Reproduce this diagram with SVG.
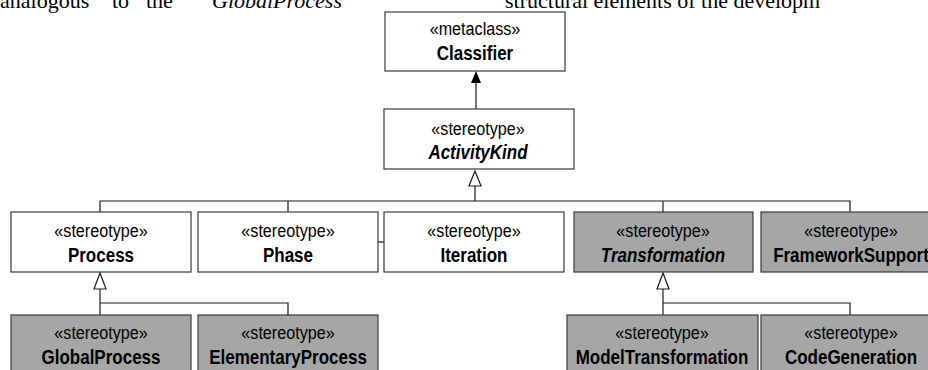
<svg xmlns="http://www.w3.org/2000/svg" width="928" height="370" viewBox="0 0 928 370">
<style>
.box{fill:#ffffff;stroke:#3a3a3a;stroke-width:1.2}
.gray{fill:#a6a6a6;stroke:#3a3a3a;stroke-width:1.2}
.st,.nm{font-family:"Liberation Sans",Arial,sans-serif;fill:#000;text-anchor:middle;transform-box:fill-box;transform-origin:center;transform:scaleX(0.85)}
.st{font-size:19px}
.nm{font-size:20px;font-weight:bold}
.it{font-style:italic}
.ln{fill:none;stroke:#1a1a1a;stroke-width:1.2}
.hollow{fill:#ffffff;stroke:#1a1a1a;stroke-width:1.2}
.body{font-family:"Liberation Serif","Times New Roman",serif;font-size:22px;fill:#000}
</style>
<text class="body" y="8"><tspan x="0">analogous</tspan><tspan x="112">to</tspan><tspan x="146">the</tspan><tspan x="200">“</tspan><tspan x="212" font-style="italic">GlobalProcess</tspan><tspan x="352">”</tspan><tspan x="505">structural elements of the developm</tspan></text>
<g id="connectors">
<line class="ln" x1="476" y1="109" x2="476" y2="82"/>
<polygon points="476,71 471,83 481,83" fill="#000"/>
<polyline class="ln" points="475,186 475,201"/>
<polygon class="hollow" points="475,171 469,186 481,186"/>
<polyline class="ln" points="100,212 100,201 850,201 850,212"/>
<line class="ln" x1="288" y1="201" x2="288" y2="212"/>
<line class="ln" x1="663" y1="201" x2="663" y2="212"/>
<line class="ln" x1="378" y1="242" x2="384" y2="242"/>
<polyline class="ln" points="100,289 100,315"/>
<polygon class="hollow" points="100,273 94,289 106,289"/>
<polyline class="ln" points="100,303 288,303 288,315"/>
<polyline class="ln" points="663,289 663,315"/>
<polygon class="hollow" points="663,273 657,289 669,289"/>
<polyline class="ln" points="663,303 850,303 850,315"/>
</g>
<g id="classifier"><rect class="box" x="385" y="12" width="180" height="59"/><text class="st" x="475" y="35">«metaclass»</text><text class="nm" x="475" y="60">Classifier</text></g>
<g id="activitykind"><rect class="box" x="384" y="109" width="190" height="60"/><text class="st" x="478" y="135">«stereotype»</text><text class="nm it" x="478" y="159">ActivityKind</text></g>
<g id="process"><rect class="box" x="11" y="212" width="180" height="60"/><text class="st" x="101" y="237">«stereotype»</text><text class="nm" x="101" y="262">Process</text></g>
<g id="phase"><rect class="box" x="198" y="212" width="180" height="60"/><text class="st" x="288" y="237">«stereotype»</text><text class="nm" x="288" y="262">Phase</text></g>
<g id="iteration"><rect class="box" x="384" y="212" width="180" height="60"/><text class="st" x="474" y="237">«stereotype»</text><text class="nm" x="474" y="262">Iteration</text></g>
<g id="transformation"><rect class="gray" x="574" y="212" width="179" height="60"/><text class="st" x="663" y="237">«stereotype»</text><text class="nm it" x="663" y="262">Transformation</text></g>
<g id="frameworksupport"><rect class="gray" x="761" y="212" width="180" height="60"/><text class="st" x="851" y="237">«stereotype»</text><text class="nm" x="851" y="262">FrameworkSupport</text></g>
<g id="globalprocess"><rect class="gray" x="11" y="315" width="180" height="60"/><text class="st" x="101" y="339">«stereotype»</text><text class="nm" x="101" y="364">GlobalProcess</text></g>
<g id="elementaryprocess"><rect class="gray" x="198" y="315" width="180" height="60"/><text class="st" x="288" y="339">«stereotype»</text><text class="nm" x="288" y="364">ElementaryProcess</text></g>
<g id="modeltransformation"><rect class="gray" x="567" y="315" width="191" height="60"/><text class="st" x="662" y="339">«stereotype»</text><text class="nm" x="662" y="364">ModelTransformation</text></g>
<g id="codegeneration"><rect class="gray" x="761" y="315" width="180" height="60"/><text class="st" x="851" y="339">«stereotype»</text><text class="nm" x="851" y="364">CodeGeneration</text></g>
</svg>
